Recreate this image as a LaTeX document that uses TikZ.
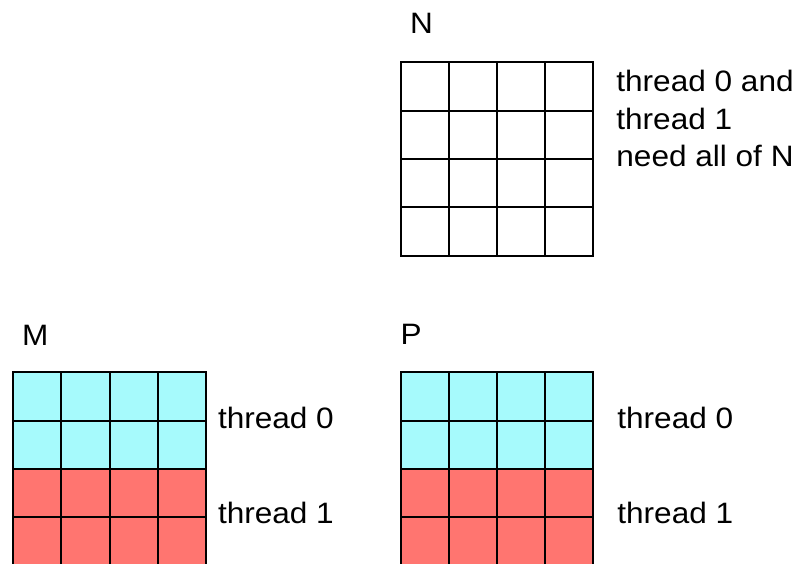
\documentclass[tikz,border=0pt]{standalone}
\usepackage{fontspec}
\setmainfont{Liberation Sans}
\newfontfamily\lblfont{Liberation Sans}[FakeStretch=1.07]
\definecolor{tcyan}{RGB}{166,250,252}
\definecolor{tred}{RGB}{255,117,112}
\tikzset{
  lbl/.style={inner sep=0pt, anchor=base west, font=\lblfont\fontsize{29.5}{37.5}\selectfont},
  gridline/.style={line width=2pt, draw=black, line cap=rect},
  matgrid/.pic={
    \foreach \i in {0,...,4} {
      \draw[gridline] (\i*48.1,0) -- (\i*48.1,4*48.35);
      \draw[gridline] (0,\i*48.35) -- (4*48.1,\i*48.35);
    }
  }
}
\begin{document}
\begin{tikzpicture}[x=1pt,y=-1pt]
\useasboundingbox (0,0) rectangle (801,564);
\clip (0,0) rectangle (801,564);
\fill[white] (0,0) rectangle (801,564);

% fills
\fill[tcyan] (13.3,372.3) rectangle +(192.4,96.7);
\fill[tred]  (13.3,469.0) rectangle +(192.4,96.7);
\fill[tcyan] (401,372.3) rectangle +(192.4,96.7);
\fill[tred]  (401,469.0) rectangle +(192.4,96.7);

% grids
\pic at (401,62.3) {matgrid};
\pic at (13.3,372.3) {matgrid};
\pic at (401,372.3) {matgrid};

% labels
\node[lbl] (labN) at (410,33.3) {N};
\node[lbl] (labM) at (21.8,345) {M};
\node[lbl] (labP) at (400.4,344.5) {P};

\node[lbl] (n1) at (616.2,91.8) {thread 0 and};
\node[lbl] (n2) at (616.2,129.5) {thread 1};
\node[lbl] (n3) at (616.2,167) {need all of N};

\node[lbl] (m0) at (217.8,428) {thread 0};
\node[lbl] (m1) at (217.8,523.5) {thread 1};
\node[lbl] (p0) at (617.2,428) {thread 0};
\node[lbl] (p1) at (617.2,523.5) {thread 1};
\end{tikzpicture}
\end{document}
